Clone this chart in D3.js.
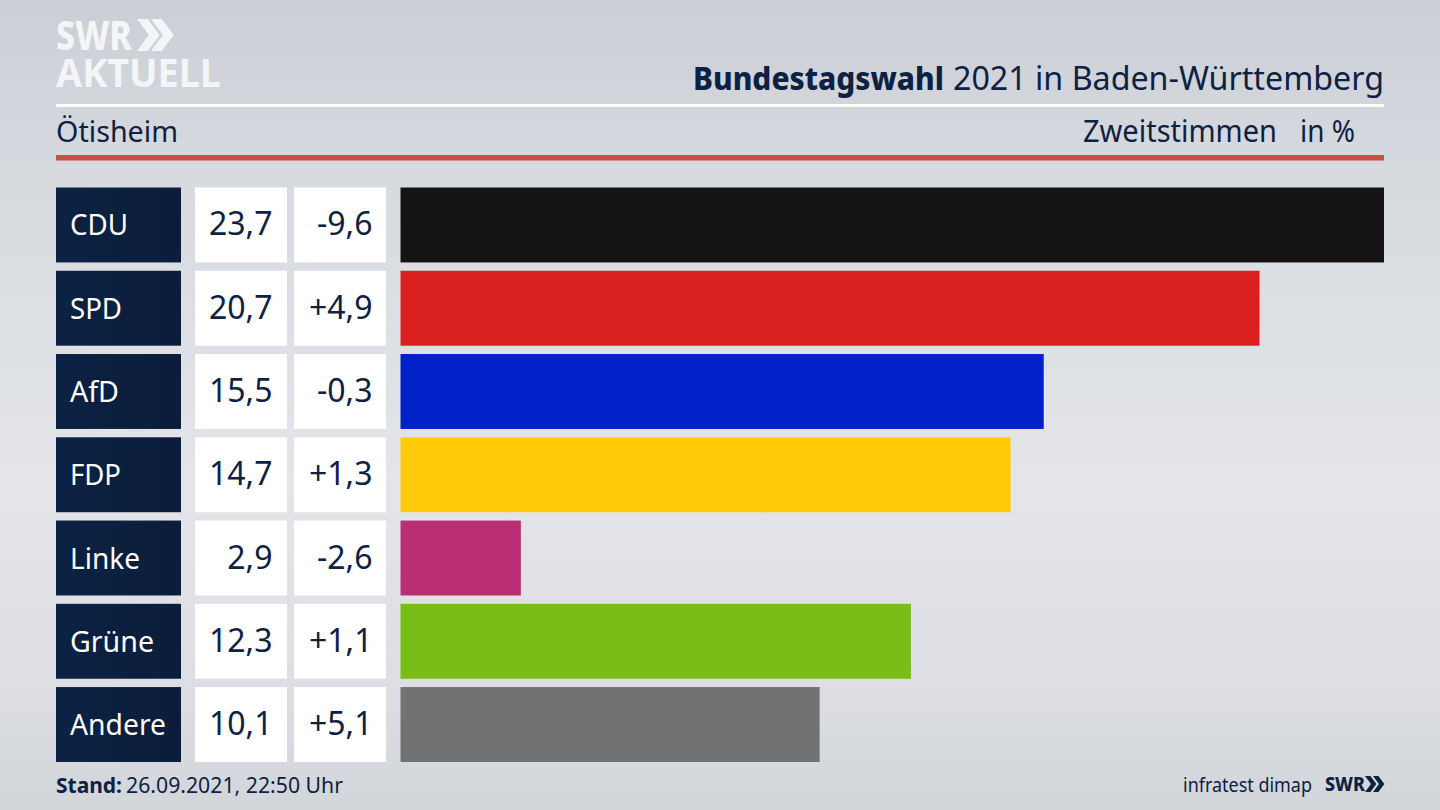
<!DOCTYPE html>
<html><head><meta charset="utf-8">
<script src="https://cdn.jsdelivr.net/npm/d3@7"></script>
<style>html,body{margin:0;padding:0;background:#d5d8dd;overflow:hidden}svg{display:block}text{font-family:"Noto Sans",sans-serif}</style>
</head><body><svg id="c" width="1440" height="810"></svg>
<script>
const parties = ["CDU","SPD","AfD","FDP","Linke","Grüne","Andere"];
const shares = [23.7,20.7,15.5,14.7,2.9,12.3,10.1];
const shareLabels = ["23,7","20,7","15,5","14,7","2,9","12,3","10,1"];
const diffLabels = ["-9,6","+4,9","-0,3","+1,3","-2,6","+1,1","+5,1"];
const colors = ["#141414","#da201e","#0021c8","#ffcb09","#bc2e74","#79bd19","#717274"];
const navy = "#0d2242";

const svg = d3.select("#c");
const defs = svg.append("defs");
const bg = defs.append("linearGradient").attr("id","bg").attr("x1",0).attr("x2",0).attr("y1",0).attr("y2",1);
[[0,"#cbced5"],[.2,"#d6d9de"],[.6,"#e3e5e9"],[.85,"#dcdee3"],[1,"#d2d5da"]].forEach(s=>bg.append("stop").attr("offset",s[0]).attr("stop-color",s[1]));
const pg = defs.append("linearGradient").attr("id","pg").attr("x1",0).attr("x2",1).attr("y1",0).attr("y2",0);
[[0,"#0c2244"],[1,"#0b1d39"]].forEach(s=>pg.append("stop").attr("offset",s[0]).attr("stop-color",s[1]));
svg.append("rect").attr("width",1440).attr("height",810).attr("fill","url(#bg)");

const y = d3.scaleBand().domain(parties).range([187.5,762]).paddingInner(0.1);
const x = d3.scaleLinear().domain([0,23.7]).range([400.5,1384]);

function txt(s,px,py,size,w,opt={}){
  const t = svg.append("text").attr("x",px).attr("y",py).attr("font-size",size)
    .attr("fill",opt.fill||navy).attr("font-weight",opt.weight||400).attr("text-anchor",opt.anchor||"start").text(s);
  if(w) t.attr("textLength",w).attr("lengthAdjust","spacingAndGlyphs");
  return t;
}
// rules
svg.append("rect").attr("x",56).attr("y",104).attr("width",1328).attr("height",3).attr("fill","#fff");
svg.append("rect").attr("x",56).attr("y",155).attr("width",1328).attr("height",5.5).attr("fill","#c9503d");

// logo
txt("SWR",56,50,41,76,{fill:"#f4f5f6",weight:800});
const chev = (x0,y0,h,fill)=>{ const w=h*.52,t=h*.42;
  svg.append("path").attr("d",`M${x0} ${y0}L${x0+t*.8} ${y0}L${x0+w+t*.45} ${y0+h/2}L${x0+t*.8} ${y0+h}L${x0} ${y0+h}L${x0+w-t*.35} ${y0+h/2}Z`).attr("fill",fill);};
chev(137,19,32,"#f4f5f6"); chev(151,19,32,"#f4f5f6");
txt("AKTUELL",56,87,40,165,{fill:"#f4f5f6",weight:700});

// headings
txt("Bundestagswahl",693,90,32,251,{weight:800});
txt("2021 in Baden-Württemberg",953,90,32,431);
txt("Ötisheim",56,142,29,122);
txt("Zweitstimmen",1083,142,30,194);
txt("in %",1300,142,30,55);

// rows
const rows = svg.append("g").selectAll("g").data(parties).join("g");
rows.append("rect").attr("x",56).attr("width",125).attr("y",d=>y(d)).attr("height",y.bandwidth()).attr("fill","url(#pg)");
rows.append("rect").attr("x",195).attr("width",92).attr("y",d=>y(d)).attr("height",y.bandwidth()).attr("fill","#fff");
rows.append("rect").attr("x",294).attr("width",92).attr("y",d=>y(d)).attr("height",y.bandwidth()).attr("fill","#fff");
rows.append("rect").attr("x",x(0)).attr("y",d=>y(d)).attr("height",y.bandwidth())
  .attr("width",(d,i)=>x(shares[i])-x(0)).attr("fill",(d,i)=>colors[i]);
const mid = d=>y(d)+y.bandwidth()/2+10.5;
rows.append("text").attr("x",70).attr("y",mid).attr("font-size",29).attr("fill","#fff").text(d=>d)
  .attr("textLength",(d,i)=>[58,52,49,51,70,84,96][i]).attr("lengthAdjust","spacingAndGlyphs");
rows.append("text").attr("x",272.5).attr("y",mid).attr("font-size",32).attr("text-anchor","end").attr("fill",navy).text((d,i)=>shareLabels[i]);
rows.append("text").attr("x",372.5).attr("y",mid).attr("font-size",32).attr("text-anchor","end").attr("fill",navy).text((d,i)=>diffLabels[i]);

// footer
txt("Stand:",56,793,22,66,{weight:700});
txt("26.09.2021, 22:50 Uhr",126,793,22,217);
txt("infratest dimap",1183,792,20,129);
txt("SWR",1325,791,20,40,{weight:800});
chev(1365,776,16,navy); chev(1373,776,16,navy);
</script></body></html>
